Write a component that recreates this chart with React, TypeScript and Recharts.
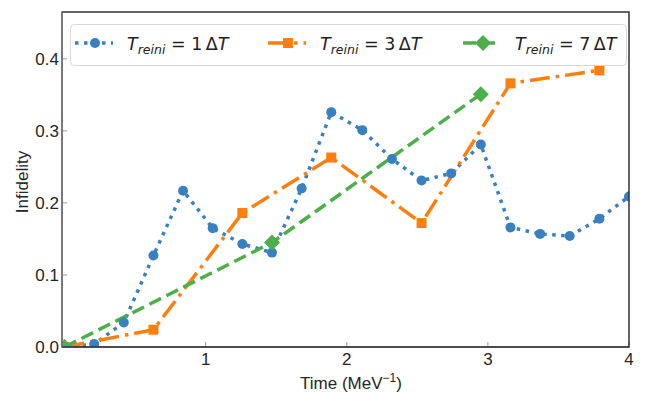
import { LineChart, Line, XAxis, YAxis } from "recharts";

const BLUE = "#3a80c0";
const ORANGE = "#ff7f0e";
const GREEN = "#4caf4a";

// x grid steps of 4/19 MeV^-1
const blueTimes = [0, 0.21, 0.42, 0.63, 0.84, 1.05, 1.26, 1.47, 1.68, 1.89, 2.11, 2.32, 2.53, 2.74, 2.95, 3.16, 3.37, 3.58, 3.79, 4.0];
const blueInfidelity = [0, 0.004, 0.034, 0.127, 0.217, 0.165, 0.143, 0.131, 0.22, 0.326, 0.301, 0.261, 0.231, 0.241, 0.281, 0.166, 0.157, 0.154, 0.178, 0.209];

const orangeTimes = [0, 0.63, 1.26, 1.89, 2.53, 3.16, 3.79];
const orangeInfidelity = [0, 0.024, 0.186, 0.263, 0.172, 0.366, 0.384];

const greenTimes = [0, 1.47, 2.95];
const greenInfidelity = [0, 0.145, 0.351];

const xTicks = [1, 2, 3, 4];
const yTicks = [0, 0.1, 0.2, 0.3, 0.4];

const legendItems = [
  { n: "1", color: BLUE, dash: "3.5 5.5", marker: "circle" },
  { n: "3", color: ORANGE, dash: "20 6 3.5 6", marker: "square" },
  { n: "7", color: GREEN, dash: "13 6", marker: "diamond" },
];

const toRows = (xs: number[], ys: number[]) => xs.map((t, i) => ({ t, v: ys[i] }));

const FONT = "Liberation Sans, Arial, sans-serif";
const TEXT = "#262626";

// plot area (matches chart margins + axis sizes)
const PLOT = { left: 62, top: 12, right: 629, bottom: 347 };

function Circle(props: any) {
  const { cx, cy } = props;
  if (cx == null || cy == null) return null;
  return <circle cx={cx} cy={cy} r={5} fill={BLUE} />;
}

function Square(props: any) {
  const { cx, cy } = props;
  if (cx == null || cy == null) return null;
  return <rect x={cx - 5} y={cy - 5} width={10} height={10} fill={ORANGE} />;
}

function Diamond(props: any) {
  const { cx, cy } = props;
  if (cx == null || cy == null) return null;
  const s = 8;
  return <polygon points={`${cx},${cy - s} ${cx + s},${cy} ${cx},${cy + s} ${cx - s},${cy}`} fill={GREEN} />;
}

function XTick(props: any) {
  const { x, payload } = props;
  return (
    <text x={x} y={PLOT.bottom + 18} textAnchor="middle" fontFamily={FONT} fontSize={17} fill={TEXT}>
      {payload.value}
    </text>
  );
}

function YTick(props: any) {
  const { y, payload } = props;
  return (
    <text x={PLOT.left - 3} y={y + 6} textAnchor="end" fontFamily={FONT} fontSize={17} fill={TEXT}>
      {Number(payload.value).toFixed(1)}
    </text>
  );
}

function LegendMarker({ kind, x, y, color }: { kind: string; x: number; y: number; color: string }) {
  if (kind === "circle") return <circle cx={x} cy={y} r={5} fill={color} />;
  if (kind === "square") return <rect x={x - 5} y={y - 5} width={10} height={10} fill={color} />;
  return <polygon points={`${x},${y - 8} ${x + 8},${y} ${x},${y + 8} ${x - 8},${y}`} fill={color} />;
}

function Overlay() {
  const starts = [75, 268, 463];
  return (
    <svg width={647} height={393} style={{ position: "absolute", left: 0, top: 0, pointerEvents: "none" }}>
      <polyline
        points={`${PLOT.left},${PLOT.top} ${PLOT.right},${PLOT.top} ${PLOT.right},${PLOT.bottom} ${PLOT.left},${PLOT.bottom}`}
        fill="none"
        stroke="#333"
        strokeWidth={1.5}
      />
      <line x1={PLOT.left} y1={PLOT.top - 0.75} x2={PLOT.left} y2={PLOT.bottom + 0.75} stroke="#666" strokeWidth={1.5} />
      <rect x={70.5} y={24.5} width={556} height={41} rx={4} fill="white" fillOpacity={0.85} stroke="#d8d8d8" />
      {legendItems.map((it, i) => {
        const x0 = starts[i];
        return (
          <g key={it.n}>
            <line x1={x0} y1={43} x2={x0 + 38} y2={43} stroke={it.color} strokeWidth={3.5} strokeDasharray={it.dash} />
            <LegendMarker kind={it.marker} x={x0 + 20} y={43} color={it.color} />
            <text x={x0 + 52} y={50} fontFamily="DejaVu Sans, sans-serif" fontSize={17.5} fill="#222">
              <tspan fontStyle="italic">T</tspan>
              <tspan fontStyle="italic" fontSize={12.5} dy={4}>reini</tspan>
              <tspan dy={-4}>{` = ${it.n}\u2009\u0394`}</tspan>
              <tspan fontStyle="italic">T</tspan>
            </text>
          </g>
        );
      })}
      <text
        transform="translate(28,182) rotate(-90)"
        textAnchor="middle"
        fontFamily={FONT}
        fontSize={17}
        fill={TEXT}
      >
        Infidelity
      </text>
      <text x={351} y={389} textAnchor="middle" fontFamily={FONT} fontSize={17} fill={TEXT}>
        Time (MeV
        <tspan fontSize={12} dy={-7}>{"\u22121"}</tspan>
        <tspan dy={7}>)</tspan>
      </text>
    </svg>
  );
}

export default function App() {
  return (
    <div style={{ position: "absolute", left: 0, top: 0, width: 647, height: 393, background: "white" }}>
      <LineChart width={647} height={393} margin={{ top: 12, right: 18, bottom: 16, left: 22 }}>
        <XAxis
          type="number"
          dataKey="t"
          domain={[-0.018, 4]}
          ticks={xTicks}
          allowDataOverflow
          stroke="#333"
          tickSize={-5}
          tickLine={{ stroke: "#999" }}
          tick={<XTick />}
          height={30}
        />
        <YAxis
          type="number"
          domain={[0, 0.465]}
          ticks={yTicks}
          allowDataOverflow
          stroke="#666"
          tickSize={-5}
          tickLine={{ stroke: "#999" }}
          tick={<YTick />}
          width={40}
        />
        <Line
          data={toRows(blueTimes, blueInfidelity)}
          dataKey="v"
          type="linear"
          stroke={BLUE}
          strokeWidth={3.5}
          strokeDasharray="3.5 5.5"
          dot={<Circle />}
          activeDot={false}
          isAnimationActive={false}
        />
        <Line
          data={toRows(orangeTimes, orangeInfidelity)}
          dataKey="v"
          type="linear"
          stroke={ORANGE}
          strokeWidth={3.5}
          strokeDasharray="20 6 3.5 6"
          dot={<Square />}
          activeDot={false}
          isAnimationActive={false}
        />
        <Line
          data={toRows(greenTimes, greenInfidelity)}
          dataKey="v"
          type="linear"
          stroke={GREEN}
          strokeWidth={3.5}
          strokeDasharray="13 6"
          dot={<Diamond />}
          activeDot={false}
          isAnimationActive={false}
        />
      </LineChart>
      <Overlay />
    </div>
  );
}
